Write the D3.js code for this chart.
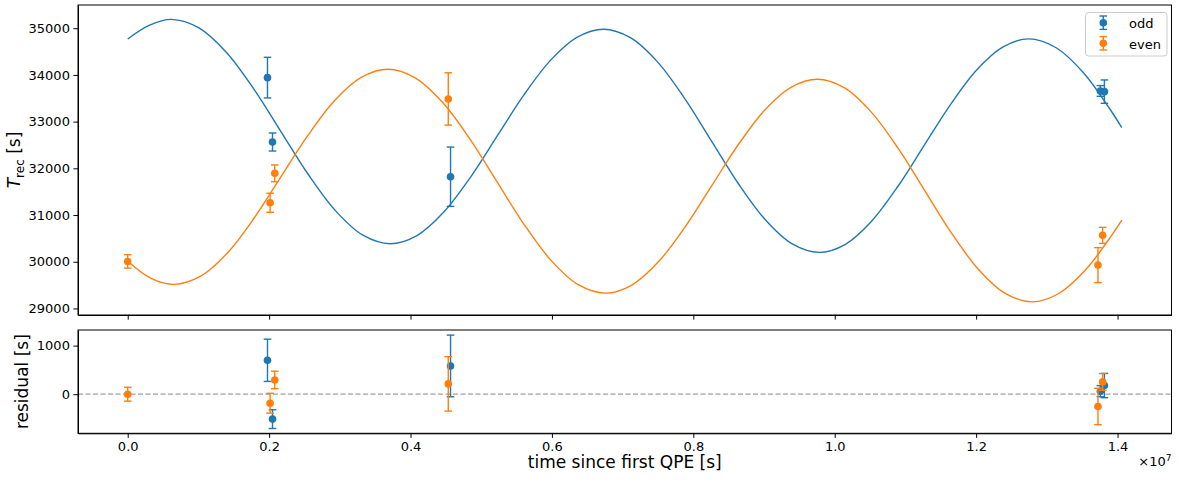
<!DOCTYPE html>
<html>
<head>
<meta charset="utf-8">
<script src="https://cdn.jsdelivr.net/npm/d3@7"></script>
<style>
    body { margin: 0; background: #fff; }
    svg { display: block; font-family: 'DejaVu Sans', sans-serif; }
    .axis text { font-size: 13px; fill: #000; font-family: 'DejaVu Sans', sans-serif; }
    .axis path, .axis line { stroke: #000; stroke-width: 1; }
</style>
</head>
<body>
<div id="chart"></div>
<script>
// times are in units of 1e7 s (as on the axis)
var oddT = [0.1977, 0.2048, 0.4566, 1.3757, 1.3814];
var oddVal = [33942, 32564, 31820, 33657, 33642];
var oddErr = [435, 193, 635, 115, 250];
var oddRes = [698, -513, 582, 62, 178];

var evenT = [0.0, 0.2014, 0.2080, 0.4534, 1.3723, 1.3789];
var evenVal = [30007, 31263, 31893, 33485, 29928, 30565];
var evenErr = [143, 204, 180, 560, 375, 172];
var evenRes = [0, -185, 294, 212, -253, 253];

// model curves
var oddModelT = [0, 0.031, 0.062, 0.1007, 0.1394, 0.178, 0.2167, 0.2554, 0.2941, 0.3327, 0.3714,
    0.4091, 0.4468, 0.4845, 0.5222, 0.5599, 0.5976, 0.6353, 0.673,
    0.7111, 0.7493, 0.7874, 0.8255, 0.8636, 0.9018, 0.9399, 0.978,
    1.0151, 1.0521, 1.0892, 1.1263, 1.1634, 1.2004, 1.2375, 1.2745,
    1.3126, 1.3508, 1.3889, 1.406];
var oddModelV = [34770, 35067, 35190, 35007, 34487, 33707, 32788, 31868, 31089, 30568, 30385,
    30560, 31058, 31803, 32682, 33561, 34306, 34804, 34979,
    34797, 34279, 33504, 32589, 31675, 30900, 30382, 30200,
    30374, 30869, 31611, 32486, 33360, 34102, 34597, 34771,
    34587, 34062, 33276, 32870];

var evenModelT = [0, 0.033, 0.0654, 0.1032, 0.141, 0.1789, 0.2167, 0.2546, 0.2924, 0.3302, 0.368,
    0.4065, 0.4449, 0.4834, 0.5218, 0.5603, 0.5987, 0.6372, 0.6756,
    0.7131, 0.7506, 0.7881, 0.8256, 0.863, 0.9005, 0.938, 0.9755,
    1.0134, 1.0514, 1.0893, 1.1273, 1.1652, 1.2031, 1.2411, 1.279,
    1.3169, 1.3548, 1.3926, 1.406];
var evenModelV = [30010, 29644, 29515, 29690, 30189, 30937, 31818, 32699, 33447, 33946, 34121,
    33939, 33419, 32642, 31724, 30807, 30030, 29510, 29328,
    29502, 29998, 30741, 31618, 32494, 33237, 33733, 33907,
    33726, 33209, 32436, 31524, 30613, 29840, 29323, 29142,
    29320, 29827, 30586, 30892];

var xTicks = [0, 0.2, 0.4, 0.6, 0.8, 1.0, 1.2, 1.4];
var yTicks = [29000, 30000, 31000, 32000, 33000, 34000, 35000];
var resTicks = [0, 1000];

var blue = '#1f77b4', orange = '#ff7f0e';

var W = 1180, H = 481;
var left = 78, right = 1171.5;
var top1 = 5, bot1 = 315;
var top2 = 330, bot2 = 433.3;

var svg = d3.select('#chart').append('svg')
    .attr('width', W)
    .attr('height', H);

var x = d3.scaleLinear().domain([-0.0703, 1.4763]).range([left, right]);
var y = d3.scaleLinear().domain([28860, 35497]).range([bot1, top1]);
var yr = d3.scaleLinear().domain([-805, 1322]).range([bot2, top2]);

var odd = oddT.map((t, i) => ({ t: t, v: oddVal[i], e: oddErr[i], r: oddRes[i] }));
var even = evenT.map((t, i) => ({ t: t, v: evenVal[i], e: evenErr[i], r: evenRes[i] }));

// ---- top panel
var line = d3.line()
    .x(d => x(d[0]))
    .y(d => y(d[1]))
    .curve(d3.curveCatmullRom.alpha(0.5));

svg.append('path')
    .datum(oddModelT.map((t, i) => [t, oddModelV[i]]))
    .attr('d', line)
    .attr('fill', 'none')
    .attr('stroke', blue)
    .attr('stroke-width', 1.4);

svg.append('path')
    .datum(evenModelT.map((t, i) => [t, evenModelV[i]]))
    .attr('d', line)
    .attr('fill', 'none')
    .attr('stroke', orange)
    .attr('stroke-width', 1.4);

function errorbars(g, data, yscale, key, color) {
    var pts = g.append('g').selectAll('g')
        .data(data)
        .enter()
        .append('g');
    pts.append('line')
        .attr('x1', d => x(d.t)).attr('x2', d => x(d.t))
        .attr('y1', d => yscale(d[key] - d.e))
        .attr('y2', d => yscale(d[key] + d.e))
        .attr('stroke', color).attr('stroke-width', 1.4);
    [-1, 1].forEach(s => {
        pts.append('line')
            .attr('x1', d => x(d.t) - 3.8).attr('x2', d => x(d.t) + 3.8)
            .attr('y1', d => yscale(d[key] + s * d.e))
            .attr('y2', d => yscale(d[key] + s * d.e))
            .attr('stroke', color).attr('stroke-width', 1.4);
    });
    pts.append('circle')
        .attr('cx', d => x(d.t))
        .attr('cy', d => yscale(d[key]))
        .attr('r', 3.8)
        .attr('fill', color);
}

errorbars(svg, odd, y, 'v', blue);
errorbars(svg, even, y, 'v', orange);

svg.append('g')
    .attr('class', 'axis')
    .attr('transform', 'translate(' + left + ',0)')
    .call(d3.axisLeft(y).tickValues(yTicks).tickFormat(d3.format('d'))
        .tickSize(4.6).tickPadding(3.5).tickSizeOuter(0));

svg.append('g')
    .attr('class', 'axis')
    .attr('transform', 'translate(0,' + bot1 + ')')
    .call(d3.axisBottom(x).tickValues(xTicks).tickSize(4.6).tickFormat('').tickSizeOuter(0));

svg.append('rect')
    .attr('x', left).attr('y', top1)
    .attr('width', right - left).attr('height', bot1 - top1)
    .attr('fill', 'none').attr('stroke', '#000').attr('stroke-width', 1);

// y label with subscript
var ylab = svg.append('text')
    .attr('transform', 'translate(20,' + (top1 + bot1) / 2 + ') rotate(-90)')
    .attr('text-anchor', 'middle')
    .style('font-size', '17px');
ylab.append('tspan').text('T').style('font-style', 'italic');
ylab.append('tspan').text('rec').attr('dy', 4).style('font-size', '12px');
ylab.append('tspan').text(' [s]').attr('dy', -4);

// legend
var lg = svg.append('g');
lg.append('rect')
    .attr('x', 1085.5).attr('y', 12.5)
    .attr('width', 81.5).attr('height', 43.5)
    .attr('rx', 3)
    .attr('fill', '#fff').attr('fill-opacity', 0.8)
    .attr('stroke', '#cccccc').attr('stroke-width', 1);

[['odd', blue, 22.7], ['even', orange, 43.3]].forEach(item => {
    var cx = 1103.3, cy = item[2];
    lg.append('line')
        .attr('x1', cx).attr('x2', cx).attr('y1', cy - 6.7).attr('y2', cy + 6.7)
        .attr('stroke', item[1]).attr('stroke-width', 1.4);
    [-6.7, 6.7].forEach(o => {
        lg.append('line')
            .attr('x1', cx - 3.8).attr('x2', cx + 3.8).attr('y1', cy + o).attr('y2', cy + o)
            .attr('stroke', item[1]).attr('stroke-width', 1.4);
    });
    lg.append('circle').attr('cx', cx).attr('cy', cy).attr('r', 3.8).attr('fill', item[1]);
    lg.append('text')
        .attr('x', 1129).attr('y', cy + 5.3)
        .style('font-size', '13px')
        .text(item[0]);
});

// ---- residual panel
svg.append('line')
    .attr('x1', left).attr('x2', right)
    .attr('y1', yr(0)).attr('y2', yr(0))
    .attr('stroke', '#a0a0a0').attr('stroke-width', 1.2)
    .attr('stroke-dasharray', '5,2.5');

errorbars(svg, odd, yr, 'r', blue);
errorbars(svg, even, yr, 'r', orange);

svg.append('g')
    .attr('class', 'axis')
    .attr('transform', 'translate(' + left + ',0)')
    .call(d3.axisLeft(yr).tickValues(resTicks).tickFormat(d3.format('d'))
        .tickSize(4.6).tickPadding(3.5).tickSizeOuter(0));

svg.append('g')
    .attr('class', 'axis')
    .attr('transform', 'translate(0,' + bot2 + ')')
    .call(d3.axisBottom(x).tickValues(xTicks).tickSize(4.6).tickPadding(3.5)
        .tickFormat(d3.format('.1f')).tickSizeOuter(0));

svg.append('rect')
    .attr('x', left).attr('y', top2)
    .attr('width', right - left).attr('height', bot2 - top2)
    .attr('fill', 'none').attr('stroke', '#000').attr('stroke-width', 1);

svg.append('text')
    .attr('transform', 'translate(28,' + (top2 + bot2) / 2 + ') rotate(-90)')
    .attr('text-anchor', 'middle')
    .style('font-size', '17px')
    .text('residual [s]');

svg.append('text')
    .attr('x', (left + right) / 2)
    .attr('y', 468)
    .attr('text-anchor', 'middle')
    .style('font-size', '17px')
    .text('time since first QPE [s]');

var off = svg.append('text')
    .attr('x', right)
    .attr('y', 465.7)
    .attr('text-anchor', 'end')
    .style('font-size', '13px');
off.append('tspan').text('×10');
off.append('tspan').text('7').attr('dy', -5).style('font-size', '9px');
</script>
</body>
</html>
